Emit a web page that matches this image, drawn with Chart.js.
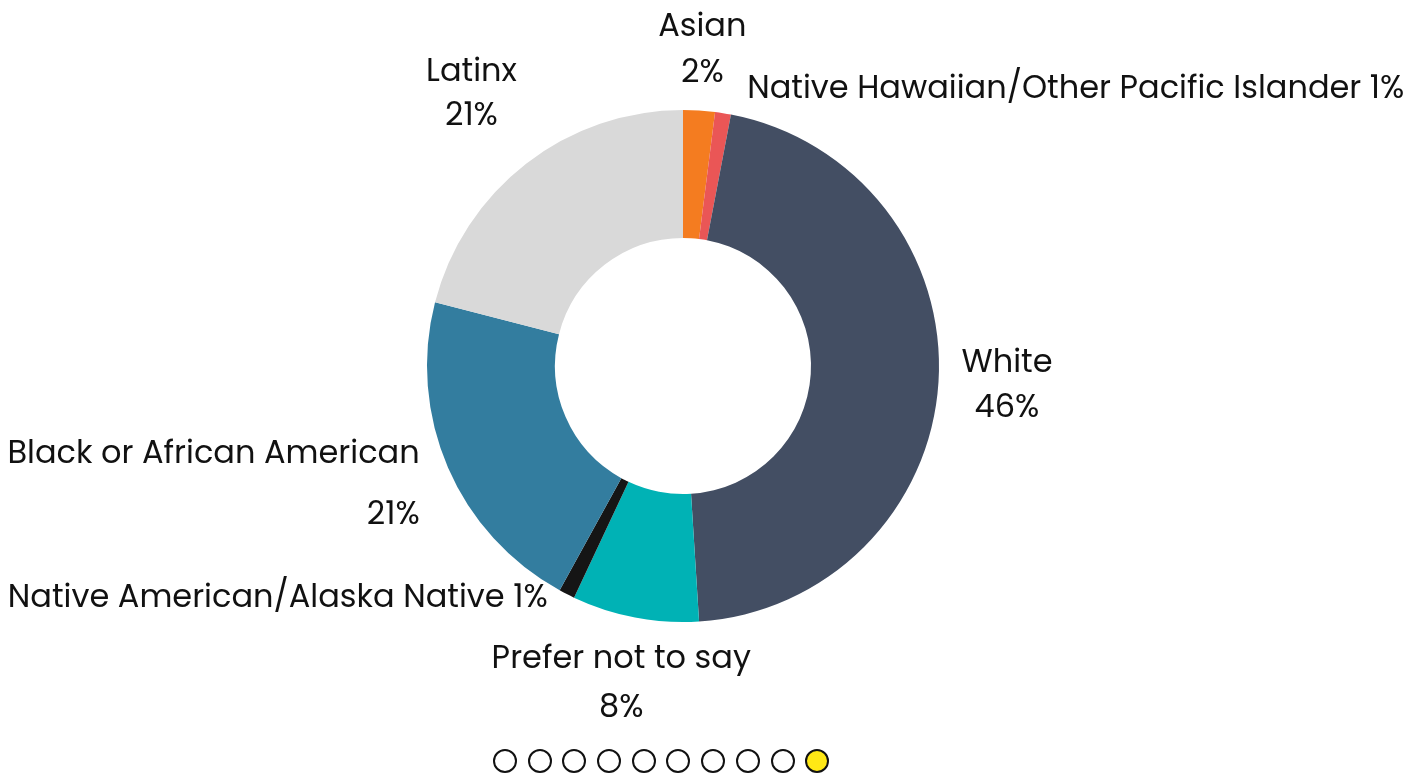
<!DOCTYPE html>
<html>
<head>
<meta charset="utf-8">
<title>Race / ethnicity</title>
<script src="https://cdn.jsdelivr.net/npm/chart.js@4.4.1/dist/chart.umd.min.js"></script>
<style>
    html, body { margin: 0; padding: 0; background: #fff; }
    #wrap { position: relative; width: 1425px; height: 777px; }
    #dots { position: absolute; left: 493px; top: 749px; display: flex; gap: 10.7px; }
    #dots span { width: 20px; height: 20px; border: 2px solid #111; border-radius: 50%; background: #fff; }
    #dots span.on { background: #ffe815; }
</style>
</head>
<body>
<div id="wrap">
    <canvas id="chart1" width="1425" height="777"></canvas>
    <div id="dots"></div>
</div>
<script>
    'use strict';

    // data
    var categories = ['Asian', 'Native Hawaiian/Other Pacific Islander', 'White', 'Prefer not to say',
        'Native American/Alaska Native', 'Black or African American', 'Latinx'];
    var shares = [2, 1, 46, 8, 1, 21, 21];
    var colors = ['#f47c20', '#ea5656', '#434e63', '#00b2b5', '#151515', '#337d9f', '#d9d9d9'];
    var pageCount = 10;
    var currentPage = 9;

    // label lines: name and share on two lines, short ones on one line
    var oneLine = [false, true, false, false, true, false, false];

    // where each label sits relative to its slice's outer anchor point
    var labelLayout = [
        { place: 'center', dx: 2, dy: -55, gap: 46 },
        { place: 'right', dx: 21, dy: 5 },
        { place: 'right', dx: 3, dy: -11, gap: 45 },
        { place: 'center', dx: -10, dy: 31, gap: 49 },
        { place: 'left', dx: -10, dy: -5 },
        { place: 'left', dx: -10, dy: -13, gap: 61, lineAlign: 'right' },
        { place: 'left', dx: 3, dy: -67, gap: 44 }
    ];

    var outLabels = {
        id: 'outLabels',
        afterDraw: function (chart) {
            var ctx = chart.ctx;
            var meta = chart.getDatasetMeta(0);
            ctx.save();
            ctx.font = '400 32px Poppins, Inter, sans-serif';
            ctx.fillStyle = '#111';
            ctx.textBaseline = 'alphabetic';
            for (var i = 0; i < meta.data.length; i++) {
                var arc = meta.data[i].getProps(['x', 'y', 'startAngle', 'endAngle', 'outerRadius'], true);
                var mid = (arc.startAngle + arc.endAngle) / 2;
                var r = arc.outerRadius + 20;
                var ax = arc.x + Math.cos(mid) * r;
                var ay = arc.y + Math.sin(mid) * r;
                var lay = labelLayout[i];
                var value = chart.data.datasets[0].data[i] + '%';
                var lines = oneLine[i] ? [chart.data.labels[i] + ' ' + value] : [chart.data.labels[i], value];
                var w = 0;
                for (var j = 0; j < lines.length; j++) {
                    w = Math.max(w, ctx.measureText(lines[j]).width);
                }
                var left;
                if (lay.place === 'right') {
                    left = ax + lay.dx;
                } else if (lay.place === 'left') {
                    left = ax + lay.dx - w;
                } else {
                    left = ax + lay.dx - w / 2;
                }
                for (var j = 0; j < lines.length; j++) {
                    var y = ay + lay.dy + j * (lay.gap || 0);
                    if (lay.lineAlign === 'right') {
                        ctx.textAlign = 'right';
                        ctx.fillText(lines[j], left + w, y);
                    } else {
                        ctx.textAlign = 'center';
                        ctx.fillText(lines[j], left + w / 2, y);
                    }
                }
            }
            ctx.restore();
        }
    };

    new Chart(document.getElementById('chart1'), {
        type: 'doughnut',
        data: {
            labels: categories,
            datasets: [{
                data: shares,
                backgroundColor: colors,
                borderWidth: 0,
                hoverOffset: 0
            }]
        },
        options: {
            responsive: false,
            animation: false,
            devicePixelRatio: 1,
            cutout: '50%',
            layout: { padding: { top: 110, bottom: 155, left: 0, right: 59 } },
            plugins: {
                legend: { display: false },
                tooltip: { enabled: false }
            }
        },
        plugins: [outLabels]
    });

    var dots = document.getElementById('dots');
    for (var k = 0; k < pageCount; k++) {
        var d = document.createElement('span');
        if (k === currentPage) {
            d.className = 'on';
        }
        dots.appendChild(d);
    }
</script>
</body>
</html>
